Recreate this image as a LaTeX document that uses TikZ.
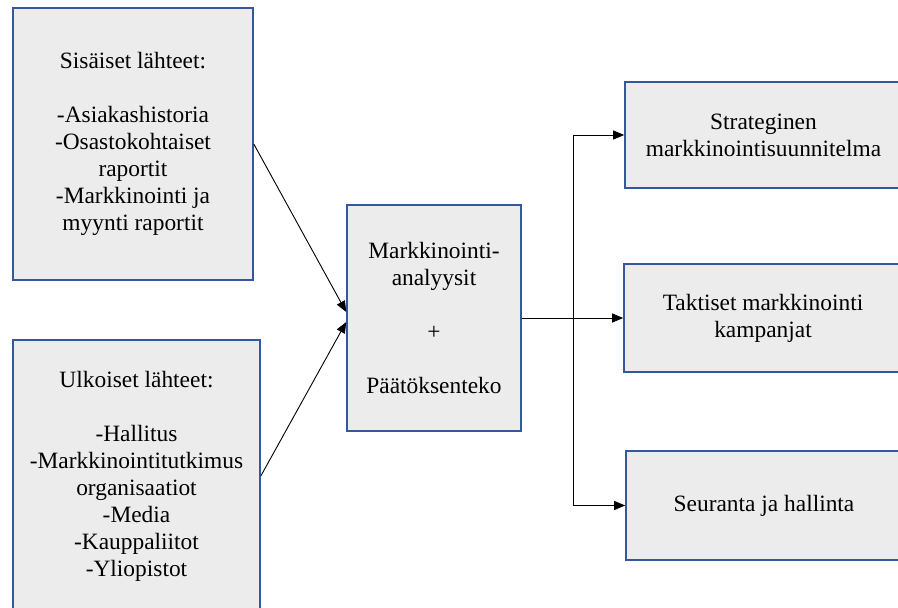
\documentclass[tikz,border=0pt]{standalone}
\usepackage{fontspec}
\newfontfamily\timesx{LiberationSerif}[Extension=.ttf, UprightFont=*-Regular]
\usetikzlibrary{arrows.meta}
\definecolor{boxfill}{RGB}{236,236,236}
\definecolor{boxline}{RGB}{52,88,160}
\tikzset{
  box/.style={draw=boxline, fill=boxfill, line width=1.6pt, align=center,
    inner sep=0pt, font=\timesx\fontsize{23.4}{27}\selectfont},
  conn/.style={draw=black, line width=0.9pt},
  arr/.style={conn, -{Triangle[length=11pt,width=9pt]}}
}
\begin{document}
\begin{tikzpicture}[x=1pt,y=-1pt]
\useasboundingbox (0,0) rectangle (898,608);
\node[box, minimum width=240pt, minimum height=272pt] (ltop) at (133,144)
  {Sisäiset lähteet:\\[27pt]-Asiakashistoria\\-Osastokohtaiset\\raportit\\-Markkinointi ja\\myynti raportit};
\node[box, minimum width=247pt, minimum height=272pt] (lbot) at (136.5,476)
  {Ulkoiset lähteet:\\[27pt]-Hallitus\\-Markkinointitutkimus\\organisaatiot\\-Media\\-Kauppaliitot\\-Yliopistot};
\node[box, minimum width=174pt, minimum height=226pt] (mid) at (434,318)
  {Markkinointi-\\analyysit\\[27pt]+\\[27pt]Päätöksenteko};
\node[box, minimum width=277pt, minimum height=106pt] (rtop) at (763.5,135)
  {Strateginen\\markkinointisuunnitelma};
\node[box, minimum width=278pt, minimum height=108pt] (rmid) at (763,318)
  {Taktiset markkinointi\\kampanjat};
\node[box, minimum width=276pt, minimum height=109pt] (rbot) at (764,505.5)
  {Seuranta ja hallinta};
\coordinate (branch) at (573,318);
\draw[arr] (ltop.east) -- ([yshift=6pt]mid.west);
\draw[arr] (lbot.east) -- ([yshift=-4pt]mid.west);
\draw[conn] (mid.east) -- (branch);
\draw[arr] (branch) |- (rtop.west);
\draw[arr] (mid.east) -- (rmid.west);
\draw[arr] (branch) |- (rbot.west);
\end{tikzpicture}
\end{document}
